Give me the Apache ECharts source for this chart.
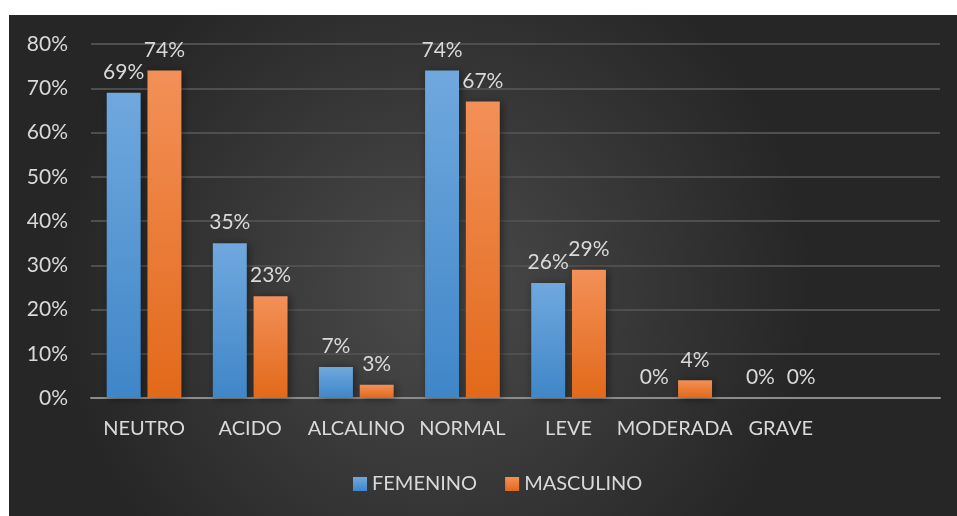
<!DOCTYPE html>
<html>
<head>
<meta charset="utf-8">
<script src="https://cdn.jsdelivr.net/npm/echarts@6/dist/echarts.min.js"></script>
<style>
  html, body { margin: 0; padding: 0; background: #ffffff; }
  #chart { position: absolute; left: 9px; top: 15px; width: 948px; height: 501px; }
</style>
</head>
<body>
<div id="chart"></div>
<script>
// Categories (the last slot is an empty category on the axis)
const categories = ['NEUTRO', 'ACIDO', 'ALCALINO', 'NORMAL', 'LEVE', 'MODERADA', 'GRAVE', ''];
// Percentages per group
const femenino = [69, 35, 7, 74, 26, 0, 0, null];
const masculino = [74, 23, 3, 67, 29, 4, 0, null];
// Value axis settings
const yMax = 80;
const yStep = 10;

const FONT = 'Lato, "Open Sans", sans-serif';
const TEXT = '#d9d9d9';

const chart = echarts.init(document.getElementById('chart'), null, { renderer: 'canvas' });

function barGradient(top, bottom) {
  return new echarts.graphic.LinearGradient(0, 0, 0, 1, [
    { offset: 0, color: top },
    { offset: 1, color: bottom }
  ]);
}

const labelStyle = {
  show: true,
  position: 'top',
  distance: 10,
  color: TEXT,
  fontFamily: FONT,
  fontSize: 21,
  formatter: p => (p.value == null ? '' : p.value + '%')
};

chart.setOption({
  backgroundColor: new echarts.graphic.RadialGradient(0.45, 0.55, 0.75, [
    { offset: 0, color: '#4b4b4b' },
    { offset: 1, color: '#262626' }
  ]),
  animation: false,
  grid: { left: 82, right: 17, top: 29, bottom: 118, containLabel: false },
  legend: {
    bottom: 17,
    left: 339,
    itemWidth: 14,
    itemHeight: 14,
    itemGap: 28,
    icon: 'rect',
    textStyle: { color: TEXT, fontFamily: FONT, fontSize: 20 },
    data: ['FEMENINO', 'MASCULINO']
  },
  xAxis: {
    type: 'category',
    data: categories,
    axisLine: { lineStyle: { color: '#8c8c8c', width: 2 } },
    axisTick: { show: false },
    axisLabel: { color: TEXT, fontFamily: FONT, fontSize: 20, margin: 21, interval: 0 },
    splitLine: { show: false }
  },
  yAxis: {
    type: 'value',
    min: 0,
    max: yMax,
    interval: yStep,
    axisLine: { show: false },
    axisTick: { show: false },
    axisLabel: { color: TEXT, fontFamily: FONT, fontSize: 21, margin: 23, formatter: '{value}%' },
    splitLine: { lineStyle: { color: '#4f4f4f', width: 2 } }
  },
  series: [
    {
      name: 'FEMENINO',
      type: 'bar',
      data: femenino,
      barWidth: '32%',
      barGap: '20%',
      itemStyle: {
        color: barGradient('#70a8de', '#3f86c8'),
        shadowColor: 'rgba(0,0,0,0.45)',
        shadowBlur: 8,
        shadowOffsetX: 2,
        shadowOffsetY: 1
      },
      label: labelStyle
    },
    {
      name: 'MASCULINO',
      type: 'bar',
      data: masculino,
      barWidth: '32%',
      itemStyle: {
        color: barGradient('#f39058', '#e2691a'),
        shadowColor: 'rgba(0,0,0,0.45)',
        shadowBlur: 8,
        shadowOffsetX: 2,
        shadowOffsetY: 1
      },
      label: labelStyle
    }
  ]
});
</script>
</body>
</html>
